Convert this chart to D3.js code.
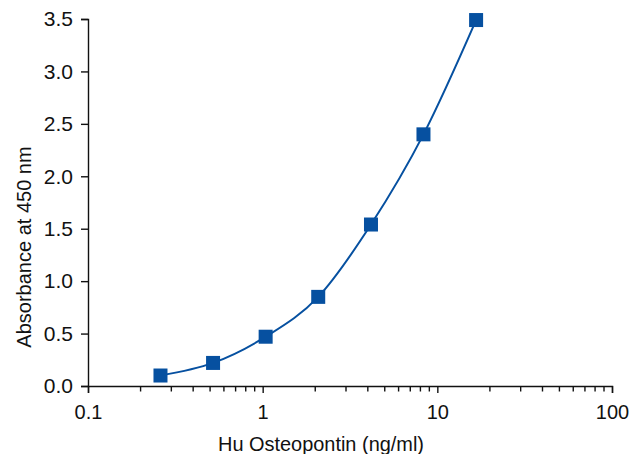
<!DOCTYPE html>
<html>
<head>
<meta charset="utf-8">
<script src="https://cdn.jsdelivr.net/npm/d3@7"></script>
<style>
  body { margin: 0; background: #fff; }
  svg text { fill: #111; }
</style>
</head>
<body>
<div id="chart"></div>
<script>
// Data
var conc = [0.26, 0.52, 1.04, 2.08, 4.17, 8.33, 16.67],
	absorb = [0.10, 0.22, 0.47, 0.85, 1.54, 2.40, 3.49];

var xTicks = [0.1, 1, 10, 100],
	yTicks = [0, 0.5, 1, 1.5, 2, 2.5, 3, 3.5];

var width = 631,
	height = 454,
	margin = {left: 88, right: 19, top: 19, bottom: 68};

var blue = "#0650a0";

var x = d3.scaleLog()
	.domain([0.1, 100])
	.range([margin.left, width - margin.right]);

var y = d3.scaleLinear()
	.domain([0, 3.5])
	.range([height - margin.bottom, margin.top]);

var svg = d3.select("#chart").append("svg")
	.attr("width", width)
	.attr("height", height);

// x axis: major ticks labelled, minor ticks between
var minor = [];
for (var d = 0.1; d < 100; d *= 10) {
	for (var k = 2; k <= 9; k++) minor.push(+(d * k).toFixed(3));
}

var xAxis = svg.append("g")
	.attr("transform", "translate(0," + y(0) + ")")
	.call(d3.axisBottom(x).tickValues(xTicks).tickFormat(d3.format("")).tickSize(7).tickPadding(12));

xAxis.selectAll("line.minor")
	.data(minor)
  .enter().append("line")
	.attr("class", "minor")
	.attr("x1", function(d) { return x(d); })
	.attr("x2", function(d) { return x(d); })
	.attr("y1", 0)
	.attr("y2", 5.5)
	.attr("stroke", "#111")
	.attr("stroke-width", 1.4);

xAxis.selectAll("text")
	.style("font-family", "'Liberation Sans', Arial, sans-serif")
	.style("font-size", "20px");

var yAxis = svg.append("g")
	.attr("transform", "translate(" + margin.left + ",0)")
	.call(d3.axisLeft(y).tickValues(yTicks).tickFormat(d3.format(".1f")).tickSize(7).tickPadding(8));

yAxis.selectAll("text")
	.style("font-family", "'Liberation Sans', Arial, sans-serif")
	.style("font-size", "21px");

svg.selectAll(".domain, .tick line")
	.attr("stroke", "#111")
	.attr("stroke-width", 1.4);

// axis titles
svg.append("text")
	.attr("x", 321)
	.attr("y", 451)
	.attr("text-anchor", "middle")
	.attr("textLength", 206)
	.attr("lengthAdjust", "spacingAndGlyphs")
	.style("font-family", "'Liberation Sans', Arial, sans-serif")
	.style("font-size", "21px")
	.text("Hu Osteopontin (ng/ml)");

svg.append("text")
	.attr("transform", "translate(31," + 247 + ") rotate(-90)")
	.attr("text-anchor", "middle")
	.style("font-family", "'Liberation Sans', Arial, sans-serif")
	.style("font-size", "20px")
	.text("Absorbance at 450 nm");

// smooth curve through the points
var pts = conc.map(function(c, i) { return [c, absorb[i]]; });

var line = d3.line()
	.x(function(d) { return x(d[0]); })
	.y(function(d) { return y(d[1]); })
	.curve(d3.curveMonotoneX);

svg.append("path")
	.datum(pts)
	.attr("fill", "none")
	.attr("stroke", blue)
	.attr("stroke-width", 2)
	.attr("d", line);

svg.selectAll("rect.pt")
	.data(pts)
  .enter().append("rect")
	.attr("class", "pt")
	.attr("x", function(d) { return x(d[0]) - 7; })
	.attr("y", function(d) { return y(d[1]) - 7; })
	.attr("width", 14)
	.attr("height", 14)
	.attr("fill", blue);
</script>
</body>
</html>
